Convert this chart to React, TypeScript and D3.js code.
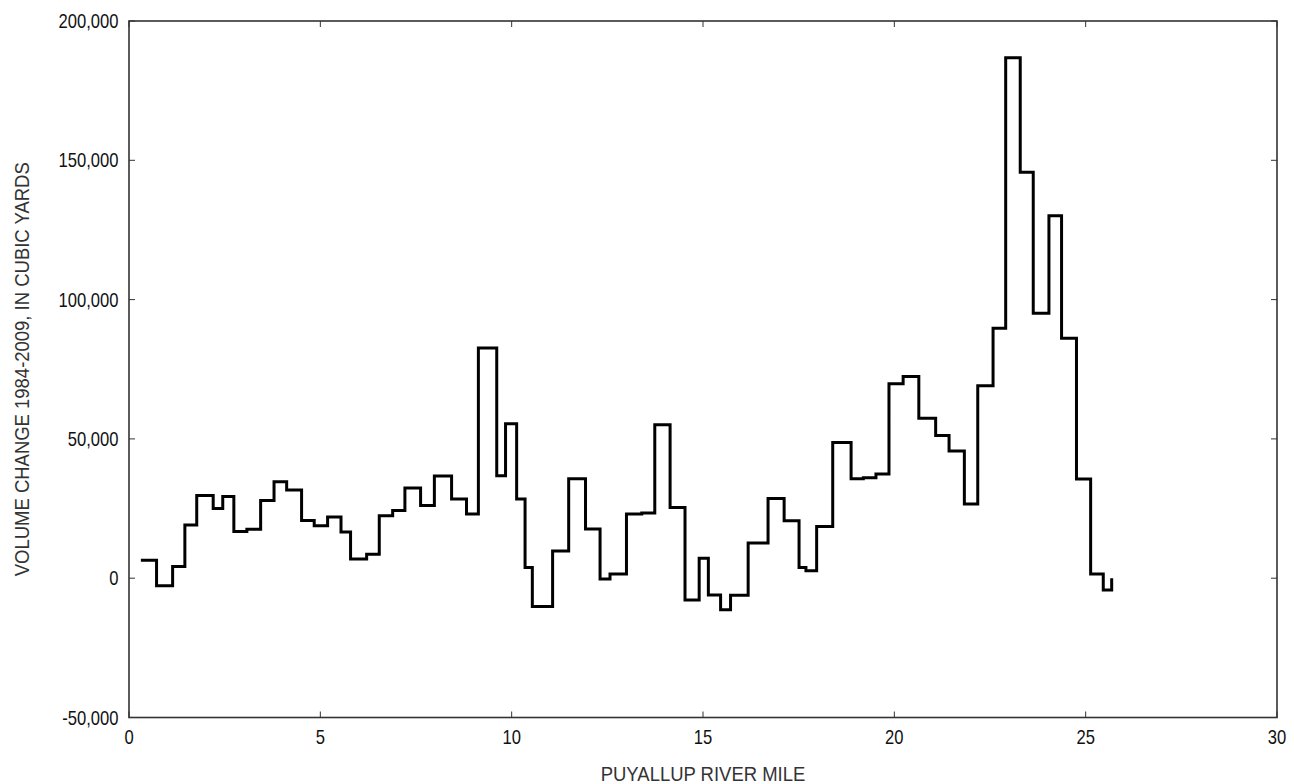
import React from "react";
import * as d3 from "d3";

// River-mile breakpoints (start of each reach) and the final end mile
const reachStartMiles: number[] = [
  0.31, 0.72, 1.14, 1.46, 1.77, 2.20, 2.45, 2.74, 3.08, 3.44,
  3.79, 4.12, 4.51, 4.84, 5.19, 5.54, 5.79, 6.21, 6.54, 6.89,
  7.21, 7.62, 7.98, 8.43, 8.82, 9.13, 9.61, 9.84, 10.13, 10.35,
  10.54, 11.07, 11.49, 11.93, 12.31, 12.57, 13.00, 13.40, 13.74, 14.14,
  14.53, 14.90, 15.14, 15.46, 15.72, 16.18, 16.70, 17.12, 17.51, 17.69,
  17.97, 18.39, 18.87, 19.19, 19.52, 19.86, 20.23, 20.64, 21.08, 21.43,
  21.83, 22.18, 22.58, 22.91, 23.29, 23.63, 24.04, 24.37, 24.76, 25.13,
  25.46, 25.68,
];

// Volume change (cubic yards) for each reach; last value closes the trace
const volumeChange: number[] = [
  6400, -2700, 4200, 19100, 29700, 25000, 29300, 16800, 17600, 27900,
  34600, 31700, 20700, 18800, 22000, 16600, 6900, 8600, 22400, 24300,
  32400, 26100, 36700, 28400, 23000, 82600, 36800, 55400, 28400, 3800,
  -10200, 9800, 35700, 17700, -300, 1500, 23000, 23400, 55100, 25400,
  -7800, 7200, -6000, -11300, -6100, 12600, 28600, 20600, 3800, 2700,
  18600, 48700, 35700, 36100, 37400, 69800, 72400, 57400, 51200, 45700,
  26600, 69100, 89700, 186800, 145700, 95100, 130100, 86100, 35600, 1500,
  -4200, 0,
];

const xTicks: number[] = [0, 5, 10, 15, 20, 25, 30];
const yTicks: number[] = [-50000, 0, 50000, 100000, 150000, 200000];

const xLabel = "PUYALLUP RIVER MILE";
const yLabel = "VOLUME CHANGE 1984-2009, IN CUBIC YARDS";

const W = 1294;
const H = 784;
const left = 129;
const right = 1277;
const top = 21;
const bottom = 717.5;
const FONT = "'Liberation Sans', Arial, sans-serif";
const TICK_SX = 0.83;
const TITLE_SX = 0.88;

export default function App() {
  const x = d3.scaleLinear().domain([0, 30]).range([left, right]);
  const y = d3.scaleLinear().domain([-50000, 200000]).range([bottom, top]);
  const pts: [number, number][] = reachStartMiles.map((m, i) => [m, volumeChange[i]]);
  const line = d3
    .line<[number, number]>()
    .x((d) => x(d[0]))
    .y((d) => y(d[1]))
    .curve(d3.curveStepAfter);
  const fmt = (v: number) => d3.format(",")(v).replace("\u2212", "-");
  const tk = 6;
  return (
    <svg
      width={W}
      height={H}
      style={{ position: "absolute", left: 0, top: 0, background: "#fff" }}
      fontFamily={FONT}
    >
      <rect x={0} y={0} width={W} height={H} fill="#fff" />
      {/* ticks */}
      {xTicks.map((t) => (
        <g key={"xt" + t}>
          <line x1={x(t)} x2={x(t)} y1={bottom} y2={bottom - tk} stroke="#333" strokeWidth={1} />
          <line x1={x(t)} x2={x(t)} y1={top} y2={top + tk} stroke="#333" strokeWidth={1} />
          <text
            transform={`translate(${x(t)}, 743.5) scale(${TICK_SX}, 1)`}
            textAnchor="middle"
            fontSize={20}
            fill="#111"
          >
            {t}
          </text>
        </g>
      ))}
      {yTicks.map((t) => (
        <g key={"yt" + t}>
          <line x1={left} x2={left + tk} y1={y(t)} y2={y(t)} stroke="#333" strokeWidth={1} />
          <line x1={right} x2={right - tk} y1={y(t)} y2={y(t)} stroke="#333" strokeWidth={1} />
          <text
            transform={`translate(118.5, ${y(t) + 7}) scale(${TICK_SX}, 1)`}
            textAnchor="end"
            fontSize={20}
            fill="#111"
          >
            {fmt(t)}
          </text>
        </g>
      ))}
      {/* frame */}
      <rect
        x={left}
        y={top}
        width={right - left}
        height={bottom - top}
        fill="none"
        stroke="#333"
        strokeWidth={1.6}
      />
      {/* data */}
      <path d={line(pts) || ""} fill="none" stroke="#000" strokeWidth={3} strokeLinejoin="miter" />
      {/* axis titles */}
      <text
        transform={`translate(${(left + right) / 2}, 780.5) scale(${TITLE_SX}, 1)`}
        textAnchor="middle"
        fontSize={21}
        fill="#333"
      >
        {xLabel}
      </text>
      <text
        transform={`translate(28.5, ${(top + bottom) / 2}) rotate(-90) scale(${TITLE_SX}, 1)`}
        textAnchor="middle"
        fontSize={21}
        fill="#333"
      >
        {yLabel}
      </text>
    </svg>
  );
}
